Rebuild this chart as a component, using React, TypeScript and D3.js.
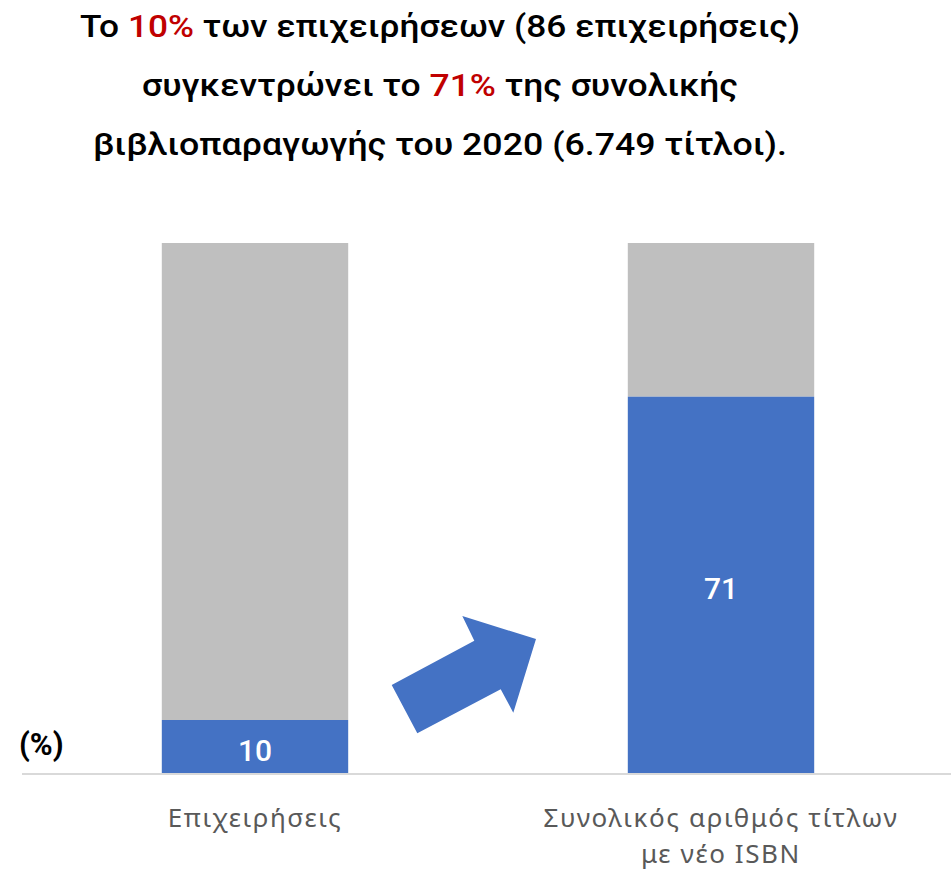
import React from "react";
import * as d3 from "d3";

const categories = ["Επιχειρήσεις", "Συνολικός αριθμός τίτλων|με νέο ISBN"];
const shareValues = [10, 71];
const totalValue = 100;
const titleLines = [
  [{ t: "Το " }, { t: "10%", red: true }, { t: " των επιχειρήσεων (86 επιχειρήσεις)" }],
  [{ t: "συγκεντρώνει το " }, { t: "71%", red: true }, { t: " της συνολικής" }],
  [{ t: "βιβλιοπαραγωγής του 2020 (6.749 τίτλοι)." }],
];
const unitLabel = "(%)";

const W = 951;
const H = 872;
const BLUE = "#4472C4";
const GRAY = "#BFBFBF";
const RED = "#C00000";

export default function App() {
  const x = d3.scaleBand<string>().domain(categories).range([22, 954]).paddingInner(0.6).paddingOuter(0.3);
  const y = d3.scaleLinear().domain([0, 100]).range([773, 243]);

  const titleFont = "Roboto, 'Liberation Sans', sans-serif";
  const labelFont = "'Noto Sans', 'Open Sans', sans-serif";
  const titleWidths = [720, 596, 694];
  const titleCenters = [440, 440, 440];
  const titleBaselines = [37, 96, 155];

  // arrow shape (local coordinates)
  const arrowPts: [number, number][] = [
    [391.7, 685], [474.3, 640.7], [462.3, 616], [536, 639], [513.3, 712.7], [500.7, 689.3], [417.3, 733.3],
  ];
  const arrowPath = d3.line()(arrowPts) + "Z";

  return (
    <svg width={W} height={H} style={{ display: "block", position: "absolute", left: 0, top: 0 }}>
      <rect width={W} height={H} fill="#fff" />
      {titleLines.map((line, i) => (
        <text
          key={i}
          x={titleCenters[i]}
          y={titleBaselines[i]}
          textAnchor="middle"
          fontFamily={titleFont}
          fontWeight={500}
          fontSize={32}
          textLength={titleWidths[i]}
          lengthAdjust="spacingAndGlyphs"
          fill="#000"
        >
          {line.map((s, j) => (
            <tspan key={j} fill={s.red ? RED : "#000"}>
              {s.t}
            </tspan>
          ))}
        </text>
      ))}

      {categories.map((c, i) => {
        const x0 = x(c)!;
        const bw = x.bandwidth();
        const v = shareValues[i];
        const cx = x0 + bw / 2;
        return (
          <g key={c}>
            <rect x={x0} y={y(totalValue)} width={bw} height={y(v) - y(totalValue)} fill={GRAY} />
            <rect x={x0} y={y(v)} width={bw} height={y(0) - y(v)} fill={BLUE} />
            <text
              x={cx}
              y={(y(v) + y(0)) / 2 + 14}
              textAnchor="middle"
              fontFamily={titleFont}
              fontSize={30}
              fontWeight={500}
              fill="#fff"
            >
              {v}
            </text>
            <text
              x={cx}
              y={827}
              textAnchor="middle"
              fontFamily={labelFont}
              fontSize={26}
              letterSpacing={1.6}
              fill="#595959"
            >
              {c.split("|").map((ln, k) => (
                <tspan key={k} x={cx} dy={k === 0 ? 0 : 36}>
                  {ln}
                </tspan>
              ))}
            </text>
          </g>
        );
      })}

      <line x1={22} x2={W} y1={y(0) + 1} y2={y(0) + 1} stroke="#D9D9D9" strokeWidth={2} />

      <text x={19} y={755} fontFamily={titleFont} fontWeight="bold" fontSize={31} fill="#000">
        {unitLabel}
      </text>

      <path d={arrowPath} fill={BLUE} />
    </svg>
  );
}
